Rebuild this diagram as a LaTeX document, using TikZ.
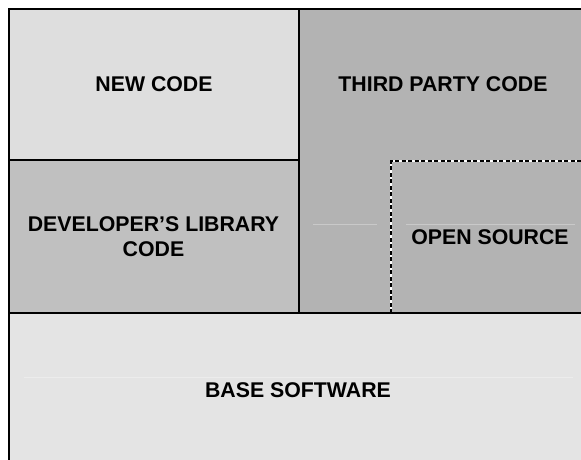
\documentclass[tikz,border=0pt]{standalone}
\usepackage{fontspec}
\setmainfont{Liberation Sans}
\definecolor{newc}{HTML}{DEDEDE}
\definecolor{devc}{HTML}{C0C0C0}
\definecolor{thirdc}{HTML}{B3B3B3}
\definecolor{basec}{HTML}{E4E4E4}
\tikzset{lbl/.style={font=\fontsize{21.3}{25}\selectfont\bfseries,align=center,inner sep=0pt},
	faint/.style={white,opacity=.3,line width=.6pt}}
\begin{document}
\begin{tikzpicture}[x=1pt,y=-1pt,line join=miter,line cap=rect]
			\useasboundingbox (0,0) rectangle (581,460);
			\clip (0,0) rectangle (581,460);
			\fill[white] (0,0) rectangle (581,460);
			\fill[newc] (9,9) rectangle (299,160);
			\fill[devc] (9,160) rectangle (299,313);
			\fill[thirdc] (299,9) rectangle (600,313);
			\fill[basec] (9,313) rectangle (600,480);
			\draw[faint] (313,224)--(377,224) (406,224)--(575,224) (24,377)--(573,377);
			\draw (154,84)node[lbl](new){NEW CODE} (443,84.5)node[lbl](third){THIRD PARTY CODE}
			(153.5,237)node[lbl](dev){DEVELOPER’S LIBRARY\\CODE} (490,237.5)node[lbl](open){OPEN SOURCE}
			(298,390.5)node[lbl](base){BASE SOFTWARE};
			\draw[line width=1.9pt] (9,160)--(299,160) (299,9)--(299,313) (9,313)--(600,313);
			\draw[white,line width=2.3pt,line cap=butt] (391,313)--(391,161)--(600,161);
			\draw[black,line width=2.3pt,line cap=butt,dash pattern=on 4pt off 2.5pt] (391,313)--(391,161)--(600,161);
			\draw[line width=2.6pt] (9,480)--(9,9)--(600,9);
		\end{tikzpicture}
\end{document}
